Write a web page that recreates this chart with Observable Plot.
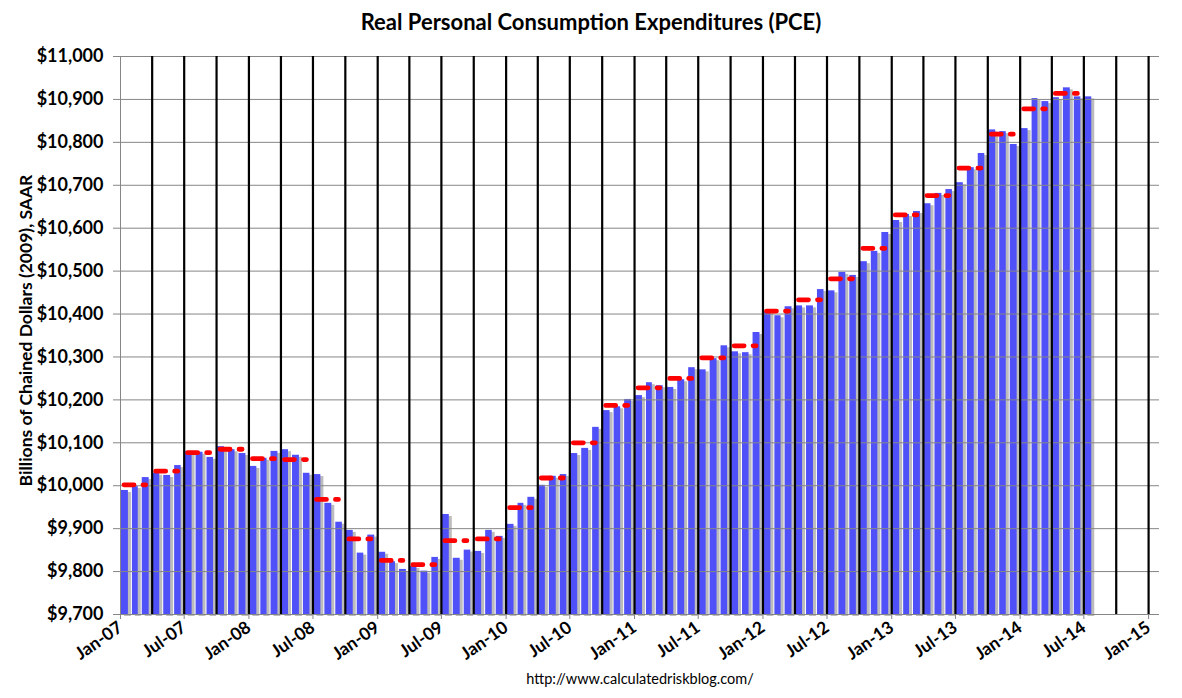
<!DOCTYPE html>
<html><head><meta charset="utf-8">
<script src="https://cdn.jsdelivr.net/npm/d3@7"></script>
<script src="https://cdn.jsdelivr.net/npm/@observablehq/plot@0.6"></script>
<style>
body{margin:0;background:#fff;font-family:Lato,"Open Sans",sans-serif;}
#title{height:44px;line-height:44px;text-align:center;font-weight:bold;font-size:22px;color:#000;}
#chart{height:628px;}
#footer{height:26px;line-height:14px;text-align:center;font-size:14.5px;color:#000;padding-left:98px;}
</style></head><body>
<div id="title">Real Personal Consumption Expenditures (PCE)</div>
<div id="chart"></div>
<div id="footer">http://www.calculatedriskblog.com/</div>
<script>
// Monthly real PCE, billions of chained 2009 dollars, SAAR (Jan-2007 .. Jul-2014)
const startMonth = "2007-01-01";
const pce2007 = [9989, 9998, 10019, 10029, 10024, 10047, 10080, 10078, 10066, 10091, 10084, 10075];
const pce2008 = [10045, 10064, 10080, 10084, 10071, 10029, 10026, 9959, 9915, 9896, 9843, 9885];
const pce2009 = [9845, 9823, 9805, 9812, 9801, 9833, 9933, 9831, 9850, 9847, 9896, 9882];
const pce2010 = [9910, 9959, 9973, 10001, 10022, 10026, 10075, 10087, 10136, 10175, 10184, 10201];
const pce2011 = [10210, 10240, 10233, 10229, 10247, 10275, 10270, 10296, 10326, 10312, 10310, 10357];
const pce2012 = [10405, 10396, 10417, 10419, 10419, 10457, 10454, 10497, 10490, 10522, 10546, 10590];
const pce2013 = [10618, 10632, 10639, 10657, 10681, 10690, 10706, 10741, 10774, 10829, 10825, 10795];
const pce2014 = [10832, 10902, 10895, 10904, 10927, 10906, 10906];
// Quarterly averages (red dashes), Q1-2007 .. Q2-2014
const quarterAvg = [10002, 10034, 10077, 10085, 10063, 10061, 9968, 9876, 9826, 9816, 9872, 9876,
  9949, 10018, 10100, 10187, 10228, 10250, 10298, 10326, 10407, 10433, 10482, 10553,
  10631, 10676, 10740, 10819, 10878, 10914];
const yTicks = [9700, 9800, 9900, 10000, 10100, 10200, 10300, 10400, 10500, 10600, 10700, 10800, 10900, 11000];
const xTickLabels = ["Jan-07","Jul-07","Jan-08","Jul-08","Jan-09","Jul-09","Jan-10","Jul-10","Jan-11","Jul-11",
  "Jan-12","Jul-12","Jan-13","Jul-13","Jan-14","Jul-14","Jan-15"];
const yLabel = "Billions of Chained Dollars (2009), SAAR";

const yMin = 9700, yMax = 11000;
const t0 = new Date(startMonth);
const pce = [...pce2007, ...pce2008, ...pce2009, ...pce2010, ...pce2011, ...pce2012, ...pce2013, ...pce2014];
const monthly = pce.map((v, i) => ({date: d3.utcMonth.offset(t0, i), value: v}));
const quarters = quarterAvg.map((v, i) => ({start: d3.utcMonth.offset(t0, 3 * i), end: d3.utcMonth.offset(t0, 3 * i + 3), value: v}));
const xTicks = xTickLabels.map((s, i) => d3.utcMonth.offset(t0, 6 * i));
const quarterLines = d3.range(1, 33).map(i => d3.utcMonth.offset(t0, 3 * i));
const gray = "#868686";

const plot = Plot.plot({
  width: 1182, height: 628,
  marginLeft: 120, marginRight: 23, marginTop: 12, marginBottom: 58,
  style: {fontFamily: "Lato, 'Open Sans', sans-serif", background: "#fff", color: "#000", overflow: "visible"},
  x: {type: "utc", domain: [t0, new Date("2015-02-01")]},
  y: {domain: [yMin, yMax]},
  marks: [
    Plot.rectY(monthly, {x: "date", interval: d3.utcMonth, y1: yMin, y2: "value", fill: "#bcbcbc",
      insetLeft: 1, insetRight: 3, dx: 3, dy: 2, ariaLabel: "shadow"}),
    Plot.rectY(monthly, {x: "date", interval: d3.utcMonth, y1: yMin, y2: "value", fill: "#5050F8",
      insetLeft: 1, insetRight: 3, ariaLabel: "bars"}),
    Plot.gridY(yTicks, {stroke: gray, strokeOpacity: 1, strokeWidth: 1}),
    Plot.ruleX(quarterLines, {stroke: "#000", strokeWidth: 2.2}),
    Plot.ruleX([t0], {stroke: gray}),
    Plot.ruleY([yMin], {stroke: gray}),
    Plot.axisY(yTicks, {tickSize: 7, tickPadding: 10, stroke: gray, fontSize: 18, fontWeight: "bold",
      tickFormat: d => "$" + d3.format(",")(d), label: null}),
    Plot.axisX(xTicks, {tickSize: 5, stroke: gray, tickRotate: -35, fontSize: 17.5, fontWeight: "bold",
      tickFormat: (d, i) => xTickLabels[i], label: null, tickPadding: 6}),
    Plot.ruleY(quarters, {y: "value", x1: "start", x2: "end", stroke: "#ff0000", strokeWidth: 4.8,
      strokeDasharray: "10,9,3,9", strokeLinecap: "round", insetLeft: 4, insetRight: 6}),
    Plot.text([yLabel], {frameAnchor: "left", textAnchor: "middle", rotate: -90, dx: -94, dy: -5,
      fontSize: 17.5, fontWeight: "bold", fill: "#000"})
  ]
});
const sh = plot.querySelector('g[aria-label="shadow"]');
if (sh) sh.style.filter = "blur(1.2px)";
document.getElementById("chart").appendChild(plot);
</script>
</body></html>
